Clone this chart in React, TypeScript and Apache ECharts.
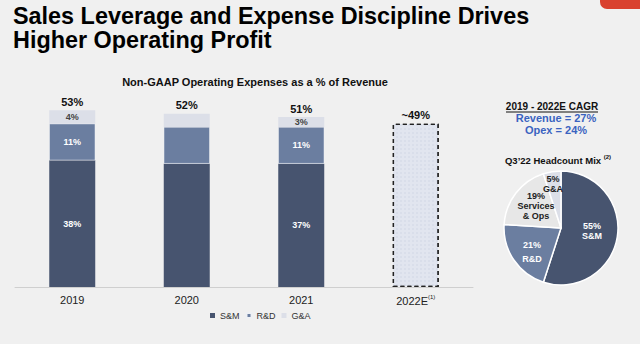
import React, { useEffect, useRef } from "react";
import * as echarts from "echarts";

const categories = ["2019", "2020", "2021", "2022E"];
const smValues = [38, 37, 37, "-"];
const rdValues = [11, 11, 11, "-"];
const gaValues = [4, 4, 3, "-"];
const estimateValues = ["-", "-", "-", 49];
const totalLabels = ["53%", "52%", "51%", "~49%"];
const smLabels = ["38%", "", "37%", ""];
const rdLabels = ["11%", "", "11%", ""];
const gaLabels = ["4%", "", "3%", ""];

const pieNames = ["S&M", "R&D", "Services & Ops", "G&A"];
const pieValues = [55, 21, 19, 5];
const pieLabels = ["55%\nS&M", "21%\nR&D", "19%\nServices\n& Ops", "5%\nG&A"];

const cagrLines = ["Revenue = 27%", "Opex = 24%"];

const C_SM = "#47546f";
const C_RD = "#6b7ea0";
const C_GA = "#dcdfe8";
const C_SVC = "#e7e7e7";
const FONT = "Liberation Sans, Arial, sans-serif";

export default function App() {
  const ref = useRef<HTMLDivElement>(null);
  useEffect(() => {
    if (!ref.current) return;
    const chart = echarts.init(ref.current, null, { renderer: "svg" });
    const pieColors = [C_SM, C_RD, C_SVC, C_GA];
    const pieLabelColors = ["#ffffff", "#ffffff", "#222222", "#222222"];
    const pieOffsets = [[0, -2], [-3, 6], [0, -3], [-3, -13]];
    const pieLineHeights = [10, 14, 10, 10];
    chart.setOption({
      animation: false,
      backgroundColor: "#f0f0f0",
      textStyle: { fontFamily: FONT },
      graphic: [
        {
          type: "rect",
          shape: { x: 600, y: -10, width: 50, height: 19, r: 7 },
          style: { fill: "#d9412f" },
        },
        {
          type: "text",
          left: 13,
          top: 4,
          style: {
            text: "Sales Leverage and Expense Discipline Drives\nHigher Operating Profit",
            font: `bold 23.4px ${FONT}`,
            lineHeight: 24,
            fill: "#000",
          },
        },
        {
          type: "text",
          x: 255,
          y: 82,
          style: {
            text: "Non-GAAP Operating Expenses as a % of Revenue",
            font: `bold 11px ${FONT}`,
            fill: "#111",
            align: "center",
            verticalAlign: "middle",
          },
        },
        {
          type: "text",
          x: 552,
          y: 106,
          style: {
            text: "2019 - 2022E CAGR",
            font: `bold 10px ${FONT}`,
            fill: "#111",
            align: "center",
            verticalAlign: "middle",
          },
        },
        {
          type: "line",
          shape: { x1: 506, y1: 112, x2: 598, y2: 112 },
          style: { stroke: "#111", lineWidth: 1 },
        },
        {
          type: "text",
          x: 556,
          y: 118,
          style: {
            text: cagrLines[0],
            font: `bold 11px ${FONT}`,
            fill: "#3a63c0",
            align: "center",
            verticalAlign: "middle",
          },
        },
        {
          type: "text",
          x: 556,
          y: 130,
          style: {
            text: cagrLines[1],
            font: `bold 11px ${FONT}`,
            fill: "#3a63c0",
            align: "center",
            verticalAlign: "middle",
          },
        },
        {
          type: "text",
          x: 558,
          y: 160,
          style: {
            text: "Q3\u201922 Headcount Mix {s|(2)}",
            font: `bold 9.5px ${FONT}`,
            fill: "#111",
            align: "center",
            verticalAlign: "middle",
            rich: { s: { fontSize: 6, fontWeight: "bold", verticalAlign: "top", padding: [0, 0, 6, 0] } },
          },
        },
      ],
      legend: {
        data: ["S&M", "R&D", "G&A"],
        left: 205,
        top: 306,
        icon: "rect",
        itemWidth: 5,
        itemHeight: 5,
        itemGap: 6,
        textStyle: { fontSize: 9, color: "#333" },
      },
      grid: { left: 15, right: 167, top: 87, bottom: 57 },
      xAxis: {
        type: "category",
        data: categories,
        axisLine: { lineStyle: { color: "#cfcfcf" } },
        axisTick: { show: false },
        axisLabel: {
          color: "#222",
          fontSize: 11,
          margin: 7,
          formatter: (v: string) => (v === "2022E" ? "2022E{s|(1)}" : v),
          rich: { s: { fontSize: 6, verticalAlign: "top", padding: [0, 0, 7, 0], color: "#222" } },
        },
      },
      yAxis: { type: "value", min: 0, max: 60, show: false },
      series: [
        {
          name: "S&M",
          type: "bar",
          stack: "t",
          barWidth: 46,
          data: smValues,
          itemStyle: { color: C_SM },
          label: {
            show: true,
            position: "inside",
            color: "#fff",
            fontSize: 9,
            fontWeight: "bold",
            formatter: (p: any) => smLabels[p.dataIndex],
          },
        },
        {
          name: "R&D",
          type: "bar",
          stack: "t",
          data: rdValues,
          itemStyle: { color: C_RD, borderColor: "#eef0f4", borderWidth: 0.5 },
          label: {
            show: true,
            position: "inside",
            color: "#fff",
            fontSize: 9,
            fontWeight: "bold",
            formatter: (p: any) => rdLabels[p.dataIndex],
          },
        },
        {
          name: "G&A",
          type: "bar",
          stack: "t",
          data: gaValues,
          itemStyle: { color: C_GA },
          label: {
            show: true,
            position: "inside",
            color: "#444",
            fontSize: 9,
            fontWeight: "bold",
            formatter: (p: any) => gaLabels[p.dataIndex],
          },
        },
        {
          name: "2022E",
          type: "bar",
          stack: "t",
          data: estimateValues,
          itemStyle: {
            color: "#e1e5ef",
            borderColor: "#222",
            borderWidth: 1.3,
            borderType: [4, 3],
            decal: {
              symbol: "rect",
              symbolSize: 0.5,
              dashArrayX: [2, 2],
              dashArrayY: [2, 2],
              color: "rgba(170,182,208,0.6)",
            },
          },
        },
        {
          name: "Total",
          type: "bar",
          stack: "t",
          data: [0, 0, 0, 0],
          itemStyle: { color: "transparent" },
          label: {
            show: true,
            position: "top",
            distance: 3,
            color: "#111",
            fontSize: 11,
            fontWeight: "bold",
            formatter: (p: any) => totalLabels[p.dataIndex],
          },
        },
        {
          name: "Headcount",
          type: "pie",
          center: [561, 228],
          radius: [0, 57],
          startAngle: 90,
          clockwise: true,
          avoidLabelOverlap: false,
          labelLayout: { hideOverlap: false },
          itemStyle: { borderColor: "#ffffff", borderWidth: 1.5 },
          label: { show: true, position: "inside", fontSize: 9, fontWeight: "bold", lineHeight: 10, overflow: "none" },
          labelLine: { show: false },
          data: pieNames.map((n, i) => ({
            name: n,
            value: pieValues[i],
            itemStyle: { color: pieColors[i] },
            label: {
              formatter: pieLabels[i],
              color: pieLabelColors[i],
              offset: pieOffsets[i],
              lineHeight: pieLineHeights[i],
            },
          })),
        },
      ],
    });
    return () => chart.dispose();
  }, []);
  return <div ref={ref} style={{ width: 640, height: 344, position: "absolute", left: 0, top: 0 }} />;
}
